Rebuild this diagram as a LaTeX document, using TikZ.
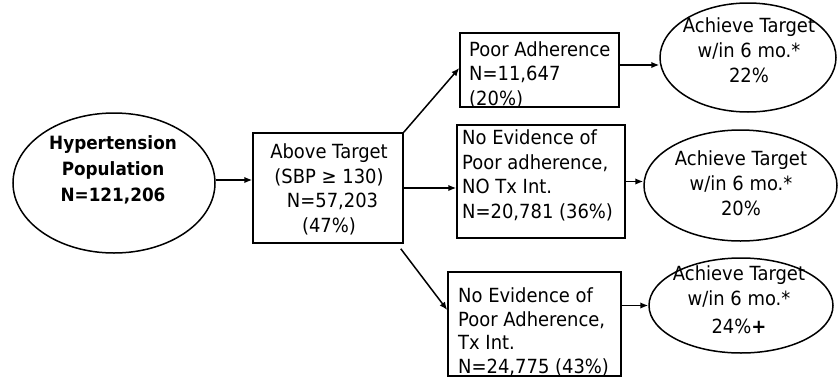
\documentclass[tikz,border=0pt]{standalone}
\usepackage{fontspec}
\setmainfont{DejaVu Sans}[FakeStretch=0.92]
\usetikzlibrary{arrows.meta,shapes.geometric}
\begin{document}
\begin{tikzpicture}[x=1pt,y=-1pt,
  box/.style={draw, rectangle, line width=1.5pt, inner sep=0pt},
  oval/.style={draw, ellipse, line width=1.5pt, inner sep=0pt},
  txt/.style={inner sep=0pt, font=\fontsize{19.5}{24.5}\selectfont},
  arr/.style={line width=1.5pt, -{Latex[length=8pt,width=6.5pt]}}]
\useasboundingbox (0,0) rectangle (838,378);
% shapes
\node[oval, minimum width=202pt, minimum height=140pt] (pop) at (114,183) {};
\node[box, minimum width=150pt, minimum height=110pt] (above) at (328,188) {};
\node[box, minimum width=159pt, minimum height=74pt] (poor) at (539.5,70) {};
\node[box, minimum width=168pt, minimum height=113pt] (mid) at (541,181.5) {};
\node[box, minimum width=173pt, minimum height=104pt] (bot) at (534.5,324) {};
\node[oval, minimum width=176pt, minimum height=109pt] (e1) at (748,57.5) {};
\node[oval, minimum width=193pt, minimum height=111pt] (e2) at (740.5,185.5) {};
\node[oval, minimum width=184pt, minimum height=95pt] (e3) at (741,305.5) {};
% texts (base anchor = baseline of the last line)
\node[txt, font=\fontsize{18.3}{26}\selectfont\bfseries, align=center, anchor=base] (popt) at (113,201) {Hypertension\\Population\\N=121,206};
\node[txt, align=center, anchor=base] (abovet) at (329,232) {Above Target\\(SBP ≥ 130)\\\hspace*{7pt}N=57,203\\(47\%)};
\node[txt, align=left, anchor=base west] (poort) at (469,105) {Poor Adherence\\N=11,647\\(20\%)};
\node[txt, align=left, anchor=base west] (midt) at (462,218) {No Evidence of\\Poor adherence,\\NO Tx Int.\\N=20,781 (36\%)};
\node[txt, font=\fontsize{19.5}{23.5}\selectfont, align=left, anchor=base west] (bott) at (458,373) {No Evidence of\\Poor Adherence,\\Tx Int.\\N=24,775 (43\%)};
\node[txt, font=\fontsize{19.5}{25}\selectfont, align=center, anchor=base] (e1t) at (749,82) {Achieve Target\\w/in 6 mo.*\\22\%};
\node[txt, font=\fontsize{19.5}{25}\selectfont, align=center, anchor=base] (e2t) at (741,215) {Achieve Target\\w/in 6 mo.*\\20\%};
\node[txt, font=\fontsize{19.5}{25}\selectfont, align=center, anchor=base] (e3t) at (739,333) {Achieve Target\\w/in 6 mo.*\\[3pt]24\%\textbf{+}};
% connectors
\draw[arr] ([yshift=3pt]pop.east) -- ([yshift=3pt]pop.east -| above.west);
\draw[arr] (above.east) -- (above.east -| mid.west);
\draw[arr] (above.north east) -- ([yshift=2pt]poor.west);
\draw[arr] ([xshift=-3pt,yshift=-5pt]above.south east) -- ([yshift=14pt]bot.west);
\draw[arr] ([yshift=5pt]poor.east) -- ([yshift=5pt]poor.east -| e1.west);
\draw[arr] (mid.east) -- (mid.east -| e2.west);
\draw[arr] (e3.west -| bot.east) -- (e3.west);
\end{tikzpicture}
\end{document}
